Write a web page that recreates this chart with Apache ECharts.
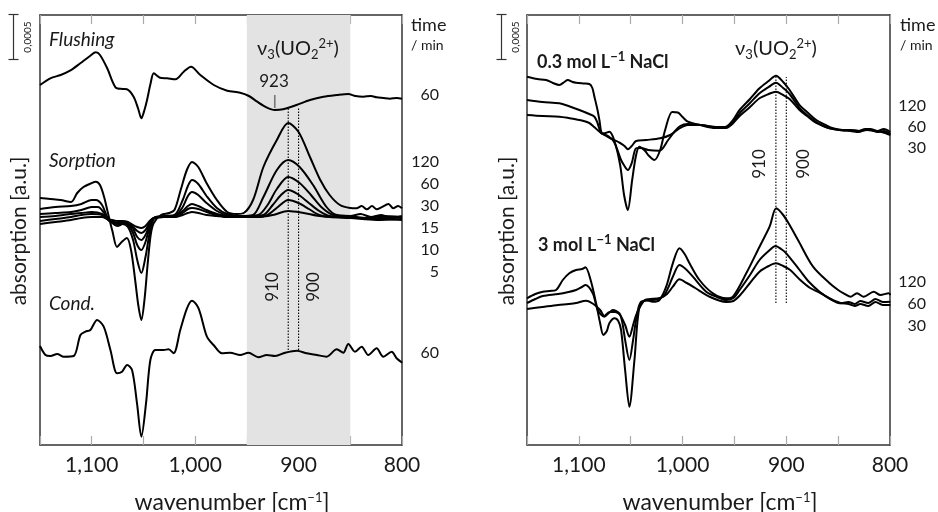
<!DOCTYPE html>
<html>
<head>
<meta charset="utf-8">
<script src="https://cdn.jsdelivr.net/npm/echarts@6/dist/echarts.min.js"></script>
<style>html,body{margin:0;padding:0;background:#fff}#main{width:938px;height:512px}</style>
</head>
<body>
<div id="main"></div>
<script>
var chartDom = document.getElementById('main');
var myChart = echarts.init(chartDom);
var FONT = 'Lato, "Open Sans", sans-serif';
var INK = '#1a1a1a';

// [wavenumber, offset absorption a.u.]
// left panel
var flushing60 = [[1150,360],[1140,366.7],[1130,370],[1121,374.3],[1111,381.7],[1103,388],[1096,392.7],[1092,390],[1085,376.7],[1077,357.7],[1070,356],[1066,355.7],[1059.5,348.3],[1055,336],[1052,326.7],[1049,335],[1046.5,345],[1043,362],[1040,371.7],[1034,367.3],[1027,366.7],[1019,365.7],[1011,373.3],[1004,378.3],[995,370],[982,360],[969,354.3],[956.5,352.3],[948,349],[940,343.3],[931,337.7],[923,335],[915,335.7],[902,340],[889,345],[876,348.3],[863,350],[852,351],[845,349],[837.5,348.3],[830,349],[824.5,347.7],[818,347],[811.7,346.3],[805,347],[800,346.3]];

var sorption120 = [[1150,247],[1140,246],[1130,245],[1120,243],[1114,252],[1108,258],[1101,261.5],[1096,263.3],[1092,260],[1088,248],[1085,235],[1080,214],[1075.5,198],[1071,203],[1066,207],[1062,195],[1058,165],[1055,140],[1052,125],[1049,145],[1046,180],[1043,210],[1040,222],[1033,230],[1025,232],[1020,235],[1014,255],[1008,275],[1003,283],[997,278],[989,262],[979,245],[969,233],[960,231],[953,232],[944,245],[934,278],[921,305],[910,322],[900,313],[889,288],[879,265],[870,250],[860,240],[850,237],[844,236.7],[839,239],[834,235.7],[829,239],[824.5,235.7],[820,237.7],[813,241],[808.5,236.7],[803.7,239],[800,236.7]];
var sorption60 = [[1150,236],[1135,238],[1120,239],[1110,241],[1100,245],[1096,245],[1090,240],[1085,228],[1080,222],[1075,219],[1070,221],[1065,218],[1060,205],[1056,185],[1052,172],[1048,188],[1044,212],[1040,226],[1030,229],[1020,230],[1012,245],[1007,259],[1003,265],[997,261],[989,249],[979,237],[969,231],[955,229],[944,230],[934,248],[921,275],[910,285],[899,278],[886,260],[873,238],[863,230],[850,229],[840,231],[830,228],[820,230],[810,227],[800,229]];
var sorption30 = [[1150,231],[1135,232],[1120,233],[1110,235],[1100,238],[1094,238],[1088,232],[1085,226],[1080,222],[1075,220],[1070,222],[1065,220],[1060,212],[1056,200],[1052,195],[1048,203],[1044,218],[1040,227],[1030,229],[1020,229],[1012,238],[1007,249],[1003,253],[997,250],[989,242],[979,234],[969,230],[955,229],[939,230],[930,240],[921,256],[910,268],[899,262],[888,250],[877,237],[866,230],[850,229],[835,227],[820,229],[800,228]];
var sorption15 = [[1150,228],[1135,229],[1120,231],[1110,232],[1100,233],[1090,231],[1085,226],[1080,223],[1075,221],[1070,222],[1065,221],[1060,216],[1056,208],[1052,205],[1048,210],[1044,220],[1040,227],[1030,228],[1020,228],[1012,234],[1007,239],[1003,241],[997,239],[989,235],[979,231],[969,229],[955,228],[934,230],[925,240],[917,250],[910,255],[901,251],[890,242],[880,234],[870,229],[850,228],[830,226],[815,228],[800,227]];
var sorption10 = [[1150,224],[1135,226],[1120,228],[1110,230],[1100,231],[1090,230],[1085,226],[1080,224],[1075,222],[1070,223],[1065,222],[1060,218],[1056,214],[1052,212],[1048,215],[1044,222],[1040,227],[1030,228],[1020,228],[1012,232],[1007,236],[1003,237],[997,236],[989,233],[979,230],[969,228],[940,228],[930,230],[920,238],[910,245],[900,242],[890,236],[880,230],[870,228],[850,227],[825,225],[800,226]];
var sorption5 = [[1150,221],[1135,223],[1120,225],[1110,227],[1100,228],[1090,228],[1085,226],[1080,225],[1075,224],[1070,224],[1065,223],[1060,220],[1056,218],[1052,217],[1048,219],[1044,224],[1040,227],[1030,228],[1020,228],[1012,230],[1007,232],[1003,233],[997,232],[989,230],[979,229],[969,228],[940,228],[925,230],[910,234],[895,232],[880,229],[860,228],[830,227],[800,225]];

var cond60 = [[1150,99],[1144.7,90],[1139.9,89],[1133.4,91],[1127,88.3],[1117.4,89],[1110.9,110],[1106.1,113.3],[1101.3,115],[1094.8,125],[1088.4,118.3],[1081.9,95],[1075.5,71.7],[1070.7,73.3],[1065.8,80],[1061,75],[1056.2,41.7],[1052,8.3],[1047.5,41.7],[1043.3,85],[1038.5,95],[1030.5,95],[1025.7,95.7],[1020.8,91.7],[1014.4,115],[1007.9,136.7],[1003.1,144.3],[996.7,136.7],[988.6,108.3],[982.2,100],[974.1,91.7],[966.1,92.3],[956.5,90],[948.5,92.3],[938.8,87.7],[930.7,90],[922.7,89],[913,92.3],[901.7,94.3],[892.1,91.7],[882.4,90],[872.8,88.3],[863.1,95.7],[856.8,92.3],[851.9,101],[845.5,93.3],[839,98.3],[832.6,90],[824.5,96.7],[818.1,88.3],[810,93.3],[805.2,86.7],[799.8,82.3]];

// right panel, 0.3 mol/L NaCl
var nacl03_120 = [[1150,368.3],[1140,366],[1131.7,365],[1125,362],[1118.8,360],[1114,363],[1110.7,365],[1106,363],[1102.7,362.3],[1095,361.5],[1089.9,361],[1087,357],[1085,348.3],[1082,335],[1080.2,325],[1077.9,312],[1075.4,311.7],[1070.6,313.3],[1066,305],[1060.2,280],[1056.4,250],[1052.8,235],[1048.6,265],[1044.8,290],[1041.6,298.3],[1036,294],[1033.2,290],[1027.1,285],[1021.6,295],[1016.8,315],[1010,333],[1004.5,332.5],[1000,328],[994.9,323.3],[983,320],[968.5,317],[957.9,318.3],[952,324],[945,335],[935,346],[925.8,356.7],[917,364],[910,369.3],[903,363],[896.8,355],[887.2,340],[880,333],[871.1,325],[862,320],[854.9,316.7],[846,315],[838.2,315],[830,314],[824,316],[819,316],[812,314],[806,316],[799.6,313]];
var nacl03_60 = [[1150,345],[1135,343],[1118.8,341.7],[1110,339],[1099.5,335],[1090,331],[1085,328.3],[1082,322],[1078.6,312],[1071.8,309],[1066,303],[1059.3,285],[1056,279],[1052.8,275],[1049,282],[1044.8,296.7],[1040,297],[1033.2,295],[1022.3,294.3],[1013.9,305],[1008,313],[1002.3,319],[995,321],[983,320],[968,318],[957.9,318],[952,322],[945,331.7],[935,342],[925.8,351.7],[917,358],[910,362.3],[903,357],[896.8,351],[887.2,337],[880,330],[871.1,323],[862,318],[854.9,316],[846,314.5],[838.2,314],[830,313],[824,315],[819,315],[812,313],[806,314],[799.6,311]];
var nacl03_30 = [[1150,330],[1135,329],[1118.8,328.3],[1110,327],[1099.5,325],[1090,322],[1085.3,318],[1078.6,312],[1070,307],[1060.2,302],[1056,299],[1052.8,295.7],[1049,299],[1044.8,304],[1035,305],[1021.6,306.7],[1012,310],[1002.3,317],[995,320],[983,320],[968,317.5],[957.9,317],[952,321],[945,329],[935,338],[925.8,346.7],[917,351],[910,353.3],[903,350],[896.8,346],[887.2,335],[880,329],[871.1,322],[862,318],[854.9,316],[846,315],[838.2,315],[830,314],[822,315],[815,314],[808,313],[799.6,310]];

// right panel, 3 mol/L NaCl
var nacl3_120 = [[1150,146.7],[1142,151],[1134.8,153.3],[1128,154],[1122,155],[1115.5,165],[1109.2,171.7],[1102.7,175],[1097,176],[1093.7,177.7],[1088.2,163.3],[1083.4,141.7],[1079.5,122],[1076.4,110],[1073,114],[1070.6,121.7],[1065.7,126.7],[1062,124],[1059.3,115],[1055.4,75],[1051.3,38.3],[1046.4,85],[1041.6,138.3],[1035.1,145],[1028.7,143.3],[1022.3,145],[1015.8,158.3],[1009.4,181.7],[1003,196.7],[998,191],[993.3,181.7],[983.7,165],[970.8,151.7],[957.9,146.7],[951.4,148.3],[938.6,171.7],[925.8,198.3],[916.1,218.3],[909.7,236.7],[903,230],[896.8,220],[888.7,205],[874.2,178.3],[858.2,161.7],[850,155],[844.7,151.7],[838.2,148.3],[831.8,151.7],[825.4,148.3],[815.7,153.3],[809.3,150],[801.2,151.7],[799.6,150]];
var nacl3_60 = [[1150,142],[1142,146],[1134.8,149],[1120,151],[1110,153],[1102.7,155],[1097,158],[1093.7,160],[1086.6,151.7],[1081.8,135],[1075.4,128.3],[1071,132],[1067.3,135],[1060.9,131.7],[1058,122],[1055.4,105],[1051.3,85],[1047.7,105],[1044.8,125],[1040,143.3],[1028.7,145],[1019,148.3],[1014,157],[1009.4,168.3],[1003,180],[997,176],[990.1,168.3],[977.2,153.3],[967,148],[957.9,145],[951,147],[945,155],[935,170],[925.8,185],[917,194],[910.3,199],[905,196],[900,191.7],[887.2,175],[878,163],[867.9,153.3],[858,146],[848.5,141.7],[840,143],[834,141],[828.6,144],[821,142],[814,146],[807,143],[799.6,143.3]];
var nacl3_30 = [[1150,136],[1135,138],[1120,140],[1110,141],[1102.7,142],[1093,144.3],[1086,141],[1079.5,135],[1075.4,129],[1070.6,133],[1065,133],[1060.2,130],[1055.4,120],[1051.3,108.3],[1047.7,120],[1044.8,130],[1040,140],[1036.1,145],[1021.6,147],[1015,151],[1009.4,158.3],[1003,165.7],[996,162],[987.8,157],[973.4,148],[957.9,143],[951,144],[944.4,150],[935,162],[925.8,173.3],[917,179],[910,181.7],[903,179],[896.2,175],[886.5,165],[877,157],[867.2,152],[857,146],[847.9,142],[840,141],[834,139],[828.6,141],[821,139],[814,143],[807,140],[799.6,140]];

// marker positions
var band = [950, 850];
var peakLines = [910, 900];
var leftPeakSpan = [95, 338];
var rightPeakSpan = [142, 368];
var flushMin = 923;
var flushTick = [337, 350];

function tickLabel(v) {
  if (v % 100 !== 0) return '';
  var s = String(v);
  return s.length > 3 ? s.slice(0, 1) + ',' + s.slice(1) : s;
}

function xAx(gi, pos) {
  return {
    type: 'value', gridIndex: gi, position: pos,
    min: 800, max: 1150, interval: 50, inverse: true,
    axisLine: {show: true, onZero: false, lineStyle: {color: '#333', width: 1.5}},
    axisTick: {show: true, inside: true, length: 9, lineStyle: {color: '#aaa', width: 1.2}},
    axisLabel: {show: pos === 'bottom', formatter: tickLabel, margin: 10, color: INK, fontSize: 21, fontFamily: FONT},
    splitLine: {show: false}
  };
}
function yAx(gi, pos) {
  return {
    type: 'value', gridIndex: gi, position: pos, min: 0, max: 430,
    axisLine: {show: true, onZero: false, lineStyle: {color: '#333', width: 1.5}},
    axisTick: {show: false}, axisLabel: {show: false}, splitLine: {show: false}
  };
}
function curve(data, gi) {
  return {
    type: 'line', xAxisIndex: gi * 2, yAxisIndex: gi * 2, data: data,
    smooth: 0.3, symbol: 'none', silent: true, z: 3,
    lineStyle: {color: '#000', width: 2}
  };
}
function vline(x, span, gi, style) {
  return {
    type: 'line', xAxisIndex: gi * 2, yAxisIndex: gi * 2,
    data: [[x, span[0]], [x, span[1]]], symbol: 'none', silent: true, z: 4,
    lineStyle: style
  };
}
var dotted = {color: '#000', width: 1.1, type: [1.5, 1.5]};

var series = [
  {
    type: 'line', xAxisIndex: 0, yAxisIndex: 0, data: [], z: 1, silent: true,
    markArea: {silent: true, itemStyle: {color: '#e3e3e3'}, data: [[{xAxis: band[0]}, {xAxis: band[1]}]]}
  },
  curve(flushing60, 0),
  curve(sorption5, 0), curve(sorption10, 0), curve(sorption15, 0),
  curve(sorption30, 0), curve(sorption60, 0), curve(sorption120, 0),
  curve(cond60, 0),
  vline(peakLines[0], leftPeakSpan, 0, dotted),
  vline(peakLines[1], leftPeakSpan, 0, dotted),
  vline(flushMin, flushTick, 0, {color: '#777', width: 1.6}),
  curve(nacl03_30, 1), curve(nacl03_60, 1), curve(nacl03_120, 1),
  curve(nacl3_30, 1), curve(nacl3_60, 1), curve(nacl3_120, 1),
  vline(peakLines[0], rightPeakSpan, 1, dotted),
  vline(peakLines[1], rightPeakSpan, 1, dotted)
];

var supRich = {
  sup: {fontSize: 13, fontFamily: FONT, fill: INK, color: INK, verticalAlign: 'top', lineHeight: 24, padding: [0, 0, 8, 0]},
  sub: {fontSize: 13, fontFamily: FONT, fill: INK, color: INK, verticalAlign: 'bottom', lineHeight: 24, padding: [8, 0, 0, 0]}
};
function txt(x, y, text, o) {
  o = o || {};
  return {
    type: 'text', x: x, y: y, rotation: o.rot || 0, silent: true, z: 10,
    style: {
      text: text, fill: INK, fontFamily: FONT,
      fontSize: o.size || 16, fontStyle: o.italic ? 'italic' : 'normal',
      fontWeight: o.bold ? 'bold' : 'normal',
      align: o.align || 'left', verticalAlign: 'middle',
      rich: o.rich ? (function () {
        var r = {};
        Object.keys(supRich).forEach(function (k) {
          r[k] = Object.assign({}, supRich[k], {fontWeight: o.bold ? 'bold' : 'normal'});
        });
        r.m = {fontSize: o.size || 16, fontFamily: FONT, fontWeight: o.bold ? 'bold' : 'normal', fill: INK, lineHeight: 24};
        return r;
      })() : undefined
    }
  };
}
function scaleBar(x) {
  var s = {stroke: '#333', lineWidth: 1.2};
  return [
    {type: 'line', silent: true, shape: {x1: x, y1: 14.5, x2: x, y2: 59.5}, style: s},
    {type: 'line', silent: true, shape: {x1: x - 5, y1: 14.5, x2: x + 5, y2: 14.5}, style: s},
    {type: 'line', silent: true, shape: {x1: x - 5, y1: 59.5, x2: x + 5, y2: 59.5}, style: s},
    txt(x + 14, 37, '0,0005', {size: 10, rot: Math.PI / 2, align: 'center'})
  ];
}

var leftTimes = [['60', 95], ['120', 162], ['60', 184], ['30', 206], ['15', 228], ['10', 250], ['5', 272], ['60', 353]];
var rightTimes = [['120', 106], ['60', 127], ['30', 148], ['120', 282], ['60', 304], ['30', 326]];

var graphic = [].concat(
  scaleBar(13.5), scaleBar(501.5),
  [
    txt(49, 40, 'Flushing', {size: 19, italic: true}),
    txt(49, 161, 'Sorption', {size: 19, italic: true}),
    txt(49, 304, 'Cond.', {size: 19, italic: true}),
    txt(298, 49, '{m|ν}{sub|3}{m|(UO}{sub|2}{sup|2+}{m|)}', {size: 20, align: 'center', rich: true}),
    txt(274, 82, '923', {size: 17, align: 'center'}),
    txt(272.5, 287, '910', {size: 17, align: 'center', rot: Math.PI / 2}),
    txt(314, 287, '900', {size: 17, align: 'center', rot: Math.PI / 2}),
    txt(411, 25, 'time', {size: 18}),
    txt(411, 45, '/ min', {size: 14}),
    txt(19, 231, 'absorption [a.u.]', {size: 21, align: 'center', rot: Math.PI / 2}),
    txt(232, 503, '{m|wavenumber [cm}{sup|−1}{m|]}', {size: 23, align: 'center', rich: true}),

    txt(537, 62, '{m|0.3 mol L}{sup|−1}{m| NaCl}', {size: 18, bold: true, rich: true}),
    txt(538, 245, '{m|3 mol L}{sup|−1}{m| NaCl}', {size: 18, bold: true, rich: true}),
    txt(776, 49, '{m|ν}{sub|3}{m|(UO}{sub|2}{sup|2+}{m|)}', {size: 20, align: 'center', rich: true}),
    txt(759.5, 164, '910', {size: 17, align: 'center', rot: Math.PI / 2}),
    txt(803.5, 164, '900', {size: 17, align: 'center', rot: Math.PI / 2}),
    txt(900, 25, 'time', {size: 18}),
    txt(900, 45, '/ min', {size: 14}),
    txt(507, 231, 'absorption [a.u.]', {size: 21, align: 'center', rot: Math.PI / 2}),
    txt(720, 503, '{m|wavenumber [cm}{sup|−1}{m|]}', {size: 23, align: 'center', rich: true})
  ],
  leftTimes.map(function (t) { return txt(439, t[1], t[0], {size: 16, align: 'right'}); }),
  rightTimes.map(function (t) { return txt(926, t[1], t[0], {size: 16, align: 'right'}); })
);

var option = {
  backgroundColor: '#fff',
  animation: false,
  grid: [
    {left: 40, top: 15, width: 362, height: 430},
    {left: 527, top: 15, width: 363, height: 430}
  ],
  xAxis: [xAx(0, 'bottom'), xAx(0, 'top'), xAx(1, 'bottom'), xAx(1, 'top')],
  yAxis: [yAx(0, 'left'), yAx(0, 'right'), yAx(1, 'left'), yAx(1, 'right')],
  series: series,
  graphic: graphic
};

option && myChart.setOption(option);
</script>
</body>
</html>
